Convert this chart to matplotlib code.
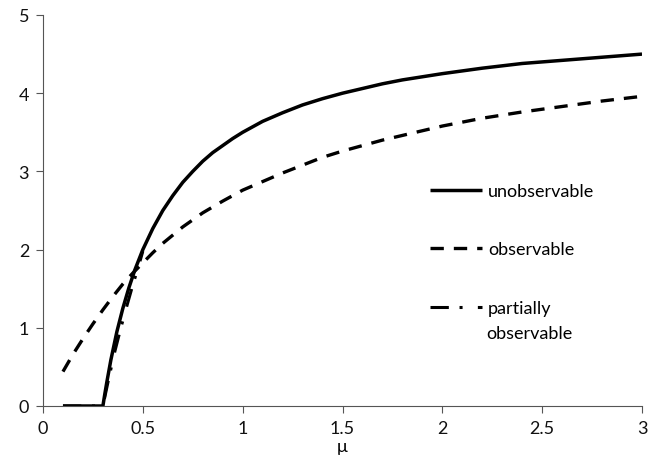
import matplotlib
matplotlib.use("Agg")
import matplotlib.pyplot as plt

plt.rcParams["font.family"] = ["Lato", "DejaVu Sans"]

# values
mu_unobs = [0.1, 0.2, 0.3, 0.31, 0.32, 0.33, 0.34, 0.35, 0.37, 0.4, 0.43,
            0.46, 0.5, 0.55, 0.6, 0.65, 0.7, 0.75, 0.8, 0.85, 0.9, 0.95, 1.0,
            1.1, 1.2, 1.3, 1.4, 1.5, 1.6, 1.7, 1.8, 1.9, 2.0, 2.2, 2.4, 2.6,
            2.8, 3.0]
unobservable = [0.0, 0.0, 0.0, 0.16, 0.31, 0.45, 0.59, 0.71, 0.95, 1.25,
                1.51, 1.74, 2.0, 2.27, 2.5, 2.69, 2.86, 3.0, 3.13, 3.24, 3.33,
                3.42, 3.5, 3.64, 3.75, 3.85, 3.93, 4.0, 4.06, 4.12, 4.17,
                4.21, 4.25, 4.32, 4.38, 4.42, 4.46, 4.5]

mu_obs = [0.1, 0.15, 0.2, 0.25, 0.3, 0.35, 0.4, 0.45, 0.5, 0.55, 0.6, 0.7,
          0.8, 0.9, 1.0, 1.1, 1.2, 1.3, 1.4, 1.5, 1.6, 1.7, 1.8, 1.9, 2.0,
          2.2, 2.4, 2.6, 2.8, 3.0]
observable = [0.44, 0.66, 0.86, 1.05, 1.23, 1.40, 1.56, 1.70, 1.83, 1.96,
              2.08, 2.29, 2.47, 2.62, 2.76, 2.87, 2.98, 3.08, 3.18, 3.26,
              3.33, 3.40, 3.46, 3.52, 3.58, 3.68, 3.76, 3.83, 3.90, 3.96]

mu_part = [0.1, 0.2, 0.3, 0.33, 0.36, 0.39, 0.42, 0.45, 0.48, 0.5]
partially = [0.0, 0.0, 0.0, 0.36, 0.70, 1.0, 1.28, 1.55, 1.80, 1.98]

x_ticks = [0, 0.5, 1, 1.5, 2, 2.5, 3]
x_ticklabels = ["0", "0.5", "1", "1.5", "2", "2.5", "3"]
y_ticks = [0, 1, 2, 3, 4, 5]

fs = 13
lw = 2.2

fig = plt.figure(figsize=(6.58, 4.60), dpi=100)
ax = fig.add_axes([43 / 658, 1 - 407 / 460, (642 - 43) / 658, (407 - 16) / 460])

ax.plot(mu_part, partially, color="black", lw=lw,
        linestyle=(0, (6, 3.5, 1, 5)), label="partially")
ax.plot(mu_obs, observable, color="black", lw=lw + 0.2,
        linestyle=(0, (4.0, 3.0)), label="observable")
ax.plot(mu_unobs, unobservable, color="black", lw=lw + 0.3,
        label="unobservable", solid_capstyle="butt")

ax.set_xlim(0, 3)
ax.set_ylim(0, 5)
ax.set_xticks(x_ticks)
ax.set_xticklabels(x_ticklabels)
ax.set_yticks(y_ticks)
ax.tick_params(direction="out", length=5, width=0.8, color="#555555",
               labelsize=fs, labelcolor="#111111", pad=5)
for side in ["top", "right"]:
    ax.spines[side].set_visible(False)
for side in ["left", "bottom"]:
    ax.spines[side].set_color("#555555")
    ax.spines[side].set_linewidth(0.8)
ax.set_xlabel("μ", fontsize=fs, labelpad=1.5)

handles, labels = ax.get_legend_handles_labels()
order = [2, 1, 0]
leg = ax.legend([handles[i] for i in order], [labels[i] for i in order],
                loc="upper left", bbox_to_anchor=(430 / 658, 1 - 184 / 460),
                bbox_transform=fig.transFigure, frameon=False, fontsize=fs,
                handlelength=2.9, handletextpad=0.3, labelspacing=2.35,
                borderpad=0, borderaxespad=0)
fig.text(486 / 658, 1 - 334 / 460, "observable", fontsize=fs,
         va="center", ha="left")

fig.savefig("out.png", dpi=100)
